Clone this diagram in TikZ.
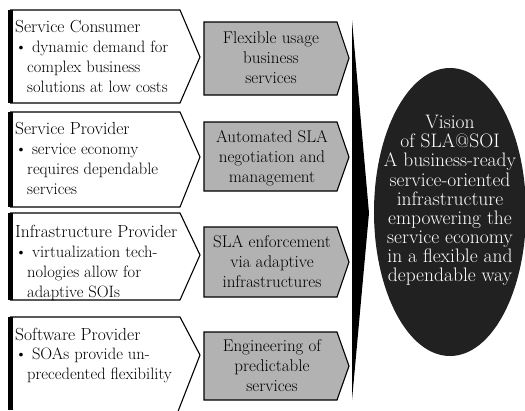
\documentclass[tikz,border=0pt]{standalone}
\usepackage{fontspec}
\begin{document}
\begin{tikzpicture}[x=1pt,y=-1pt,
  outl/.style={draw=black,line width=1.1pt,line join=miter},
  graybox/.style={outl,fill=black!30},
  lt/.style={anchor=base west,inner sep=0pt,font=\fontsize{16.5}{20}\selectfont},
  ttl/.style={anchor=base west,inner sep=0pt,font=\fontsize{17.5}{20}\selectfont},
  gt/.style={anchor=base,inner sep=0pt,font=\fontsize{17}{20}\selectfont},
  et/.style={anchor=base,inner sep=0pt,text=white,font=\fontsize{19.5}{20}\selectfont}]
\useasboundingbox (0,0) rectangle (525,410);
% left chevrons
\draw[outl] (10,10) -- (180,10) -- (200,57) -- (180,103) -- (10,103);
\fill (8,10) rectangle (13,103);
\draw[outl] (10,112) -- (180,112) -- (200,157) -- (180,207) -- (10,207);
\fill (8,112) rectangle (13,207);
\draw[outl] (10,213) -- (180,213) -- (200,255) -- (180,300) -- (10,300);
\fill (8,213) rectangle (13,300);
\draw[outl] (10,317) -- (180,317) -- (200,355) -- (177,414);
\fill (8,317) rectangle (13,410);
% left texts
\node[ttl] (c0) at (15,32) {Service Consumer};
\node[lt] (c1) at (15,52) {\textbullet\ dynamic demand for};
\node[lt] (c2) at (27,72) {complex business};
\node[lt] (c3) at (27,92) {solutions at low costs};
\node[ttl] (p0) at (15,134) {Service Provider};
\node[lt] (p1) at (15,154) {\textbullet\ service economy};
\node[lt] (p2) at (27,174) {requires dependable};
\node[lt] (p3) at (27,194) {services};
\node[ttl] (i0) at (15,237) {Infrastructure Provider};
\node[lt] (i1) at (15,257) {\textbullet\ virtualization tech-};
\node[lt] (i2) at (27,277) {nologies allow for};
\node[lt] (i3) at (27,297) {adaptive SOIs};
\node[ttl] (s0) at (15,340) {Software Provider};
\node[lt] (s1) at (15,359) {\textbullet\ SOAs provide un-};
\node[lt] (s2) at (27,379) {precedented flexibility};
% gray chevrons
\draw[graybox] (204,22) -- (337,22) -- (349,58) -- (337,95) -- (204,95) -- cycle;
\draw[graybox] (204,122) -- (337,122) -- (349,157) -- (337,191) -- (204,191) -- cycle;
\draw[graybox] (204,227) -- (337,227) -- (349,262) -- (337,297) -- (204,297) -- cycle;
\draw[graybox] (204,332) -- (337,332) -- (349,366) -- (337,400) -- (204,400) -- cycle;
\node[gt] (g10) at (271,43) {Flexible usage};
\node[gt] (g11) at (271,63) {business};
\node[gt] (g12) at (271,83) {services};
\node[gt] (g20) at (272,142) {Automated SLA};
\node[gt] (g21) at (272,162) {negotiation and};
\node[gt] (g22) at (272,182) {management};
\node[gt] (g30) at (272,247) {SLA enforcement};
\node[gt] (g31) at (272,267) {via adaptive};
\node[gt] (g32) at (272,287) {infrastructures};
\node[gt] (g40) at (272,351) {Engineering of};
\node[gt] (g41) at (272,371) {predictable};
\node[gt] (g42) at (272,391) {services};
% wedge
\fill (352,20) -- (369,213) -- (352,400) -- cycle;
% ellipse
\fill[black!87] (450,212) ellipse [x radius=76, y radius=144];
\node[et] (e1) at (450,128) {Vision};
\node[et] (e2) at (450,147) {of SLA@SOI};
\node[et] (e3) at (450,166) {A business-ready};
\node[et] (e4) at (450,186) {service-oriented};
\node[et] (e5) at (450,205) {infrastructure};
\node[et] (e6) at (450,224) {empowering the};
\node[et] (e7) at (450,243) {service economy};
\node[et] (e8) at (450,262) {in a flexible and};
\node[et] (e9) at (450,281) {dependable way};
\end{tikzpicture}
\end{document}
